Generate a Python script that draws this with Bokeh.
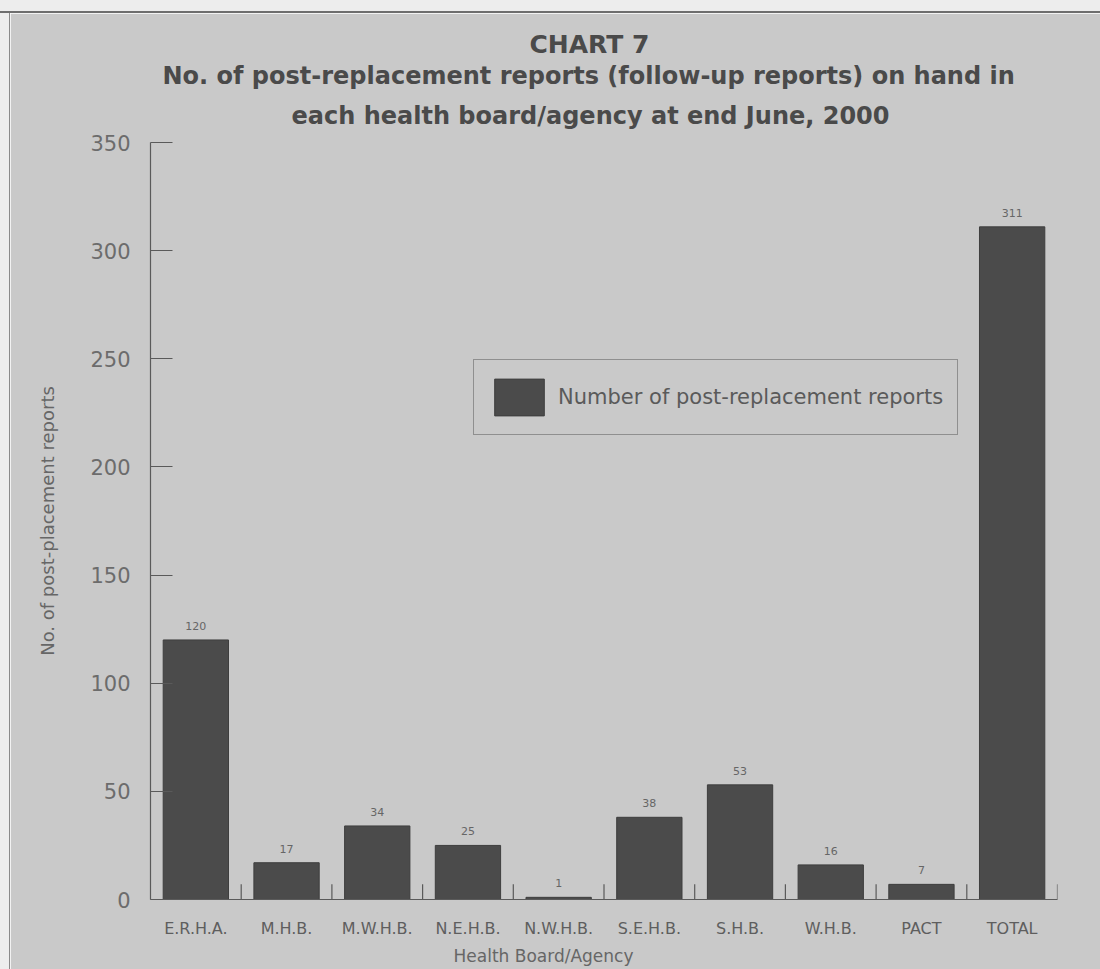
from bokeh.plotting import figure
from bokeh.models import (ColumnDataSource, FactorRange, Range1d, FixedTicker,
                          LabelSet, Legend, LegendItem, Spacer, Title)
from bokeh.core.properties import value
from bokeh.layouts import column, row
from bokeh.embed import file_html
from bokeh.resources import INLINE

# Post-replacement (follow-up) reports on hand, end June 2000
boards = ["E.R.H.A.", "M.H.B.", "M.W.H.B.", "N.E.H.B.", "N.W.H.B.",
          "S.E.H.B.", "S.H.B.", "W.H.B.", "PACT", "TOTAL"]
reports = [120, 17, 34, 25, 1, 38, 53, 16, 7, 311]
y_ticks = [0, 50, 100, 150, 200, 250, 300, 350]

title_line0 = "CHART 7"
title_line1 = "No. of post-replacement reports (follow-up reports) on hand in"
title_line2 = "each health board/agency at end June, 2000"
legend_label = "Number of post-replacement reports"
y_label = "No. of post-placement reports"
x_label = "Health Board/Agency"

PANEL = "#c9c9c9"
BAR = "#4b4b4b"
INK = "#4a4a4a"
SOFT = "#666666"
FONT = "DejaVu Sans"

source = ColumnDataSource(dict(board=boards, reports=reports,
                               label=[str(v) for v in reports]))

p = figure(width=1090, height=956,
           x_range=FactorRange(*boards, range_padding=0),
           y_range=Range1d(0, 350),
           min_border_left=140, min_border_right=43,
           min_border_top=129, min_border_bottom=70,
           output_backend="svg", toolbar_location=None)

p.background_fill_color = PANEL
p.border_fill_color = PANEL
p.outline_line_color = PANEL
p.outline_line_width = 2
p.xgrid.visible = False
p.ygrid.visible = False

bars = p.vbar(x="board", top="reports", width=0.72, source=source,
              fill_color=BAR, line_color="#3e3e3e", line_width=1)

# value labels above each bar
p.add_layout(LabelSet(x="board", y="reports", text="label", source=source,
                      y_offset=14, text_align="center", text_baseline="middle",
                      text_font=value(FONT), text_font_size="11px",
                      text_color=SOFT))

# separators between categories on the x axis
bounds = list(range(1, len(boards) + 1))
p.segment(x0=bounds, y0=[0] * len(bounds), x1=bounds, y1=[7] * len(bounds),
          line_color="#5a5a5a", line_width=1.2)

# y axis
yax = p.yaxis[0]
yax.ticker = FixedTicker(ticks=y_ticks)
yax.major_tick_in = 22
yax.major_tick_out = 0
yax.minor_tick_line_color = None
yax.major_label_standoff = 20
yax.major_label_text_font = FONT
yax.major_label_text_font_size = "21px"
yax.major_label_text_color = "#6c6c6c"
yax.axis_line_color = "#5a5a5a"
yax.axis_line_width = 1.2
yax.major_tick_line_color = "#5a5a5a"
yax.major_tick_line_width = 1.2
yax.axis_label = y_label
yax.axis_label_standoff = 29
yax.axis_label_text_font = FONT
yax.axis_label_text_font_size = "18px"
yax.axis_label_text_font_style = "normal"
yax.axis_label_text_color = SOFT

# x axis
xax = p.xaxis[0]
xax.major_tick_line_color = None
xax.minor_tick_line_color = None
xax.major_label_standoff = 13
xax.major_label_text_font = FONT
xax.major_label_text_font_size = "16px"
xax.major_label_text_color = "#5e5e5e"
xax.axis_line_color = "#5a5a5a"
xax.axis_line_width = 1.2

# x-axis caption, set slightly left of centre
p.add_layout(Title(text=x_label, align="left", offset=303, standoff=6,
                   text_font=FONT, text_font_size="17px",
                   text_font_style="normal", text_color=SOFT), "below")

# three heading lines stacked above the plot (first added sits lowest)
for text, size, stand, shift in [(title_line2, "24px", 25, 141),
                                 (title_line1, "24px", -4, 12),
                                 (title_line0, "25px", 6, 379)]:
    p.add_layout(Title(text=text, align="left", offset=shift, standoff=stand,
                       text_font=FONT, text_font_size=size,
                       text_font_style="bold", text_color=INK), "above")

legend = Legend(items=[LegendItem(label=legend_label, renderers=[bars])],
                location=(323, 464))
legend.border_line_color = "#555555"
legend.border_line_width = 1.5
legend.background_fill_alpha = 0
legend.label_text_font = FONT
legend.label_text_font_size = "21px"
legend.label_text_color = "#5a5a5a"
legend.glyph_width = 62
legend.glyph_height = 46
legend.padding = 14
legend.label_standoff = 8
legend.margin = 0
p.add_layout(legend)

top_strip = Spacer(width=1100, height=11, styles={"background-color": "#ededed"})
top_rule = Spacer(width=1100, height=2, styles={"background-color": "#6e6e6e"})
left_strip = Spacer(width=9, height=956, styles={"background-color": "#ededed"})
left_rule = Spacer(width=1, height=956, styles={"background-color": "#8a8a8a"})

layout = column(top_strip, top_rule, row(left_strip, left_rule, p), spacing=0)

open("out.html", "w").write(file_html(layout, INLINE))
